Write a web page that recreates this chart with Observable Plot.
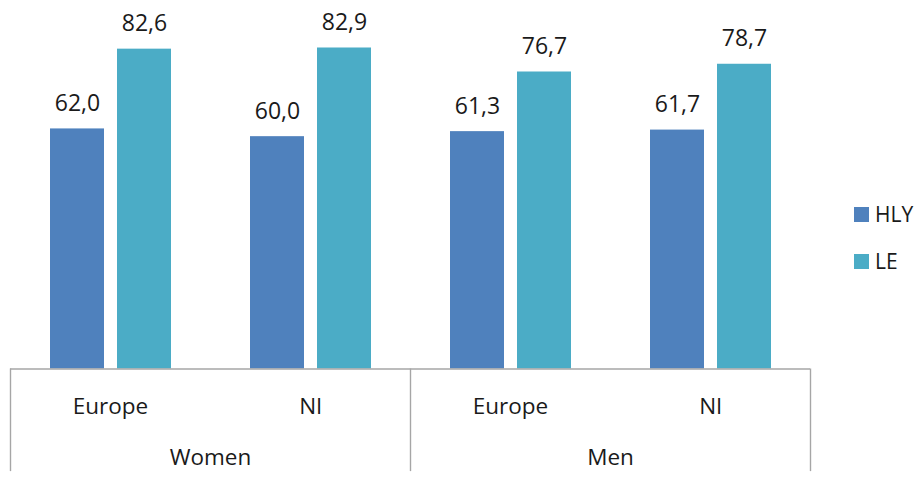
<!DOCTYPE html>
<html><head><meta charset="utf-8">
<script src="https://cdn.jsdelivr.net/npm/d3@7"></script>
<script src="https://cdn.jsdelivr.net/npm/@observablehq/plot@0.6"></script>
<style>
body{margin:0;background:#fff;font-family:"Open Sans",sans-serif}
#wrap{position:relative;width:920px;height:480px}
.leg{position:absolute;left:854px;display:flex;align-items:center;height:15px;font-size:21px;color:#1a1a1a;line-height:15px;font-family:"Open Sans",sans-serif}
.leg .sw{width:15px;height:15px;margin-right:6px;display:inline-block}
</style></head><body><div id="wrap"></div>
<script>
const genders = ["Women", "Men"];
const regions = ["Europe", "Nl"];
const series = ["HLY", "LE"];
const colors = ["#4F81BD", "#4BACC6"];
// order: Women Europe, Women Nl, Men Europe, Men Nl
const hly = [62.0, 60.0, 61.3, 61.7];
const le = [82.6, 82.9, 76.7, 78.7];

const data = [];
const cells = [];
genders.forEach((g, gi) => regions.forEach((r, ri) => {
  const i = gi * 2 + ri;
  cells.push({gender: g, region: r});
  data.push({gender: g, region: r, series: "HLY", value: hly[i]});
  data.push({gender: g, region: r, series: "LE", value: le[i]});
}));
const hData = data.filter(d => d.series === "HLY");
const lData = data.filter(d => d.series === "LE");
const fmt = v => v.toFixed(1).replace(".", ",");
const axisColor = "#a6a6a6";

const chart = Plot.plot({
  width: 920, height: 480,
  marginLeft: 10, marginRight: 110, marginTop: 20, marginBottom: 111.5,
  style: {fontFamily: "Open Sans", fontSize: "22px", background: "#fff", overflow: "visible"},
  fx: {domain: genders, padding: 0, axis: null},
  x: {domain: regions, padding: 0, axis: null},
  y: {domain: [0, 90], axis: null},
  color: {domain: series, range: colors},
  marks: [
    Plot.barY(hData, {fx: "gender", x: "region", y: "value", fill: "series", insetLeft: 40, insetRight: 106}),
    Plot.barY(lData, {fx: "gender", x: "region", y: "value", fill: "series", insetLeft: 107, insetRight: 39}),
    Plot.text(hData, {fx: "gender", x: "region", y: "value", text: d => fmt(d.value), dx: -33, dy: -18, lineAnchor: "bottom", fill: "#1a1a1a", fontSize: 23}),
    Plot.text(lData, {fx: "gender", x: "region", y: "value", text: d => fmt(d.value), dx: 34, dy: -18, lineAnchor: "bottom", fill: "#1a1a1a", fontSize: 23}),
    Plot.ruleY([0], {stroke: axisColor, strokeWidth: 1.4}),
    Plot.ruleX(genders, {fx: d => d, x: () => "Europe", dx: -100, y1: 0, y2: -26.5, stroke: axisColor, strokeWidth: 1.4}),
    Plot.ruleX(["Men"], {fx: d => d, x: () => "Nl", dx: 100, y1: 0, y2: -26.5, stroke: axisColor, strokeWidth: 1.4}),
    Plot.text(cells, {fx: "gender", x: "region", text: "region", frameAnchor: "bottom", dy: 45, lineAnchor: "bottom", fill: "#1a1a1a", fontSize: 22.5}),
    Plot.text(genders, {fx: d => d, text: d => d, frameAnchor: "bottom", dy: 96, lineAnchor: "bottom", fill: "#1a1a1a", fontSize: 22.5})
  ]
});
const wrap = document.getElementById("wrap");
wrap.appendChild(chart);
series.forEach((s, i) => {
  const item = document.createElement("div");
  item.className = "leg";
  item.style.top = (207 + i * 47) + "px";
  item.innerHTML = `<span class="sw" style="background:${colors[i]}"></span><span>${s}</span>`;
  wrap.appendChild(item);
});
</script>
</body></html>
